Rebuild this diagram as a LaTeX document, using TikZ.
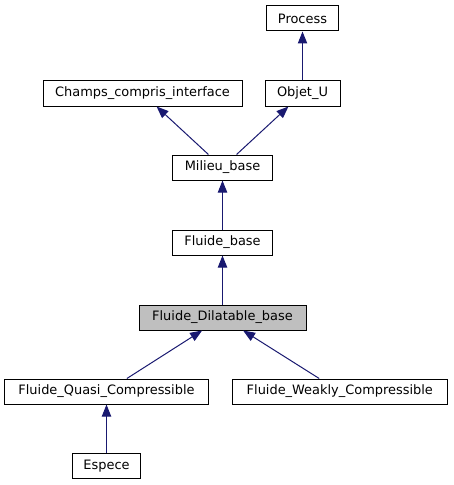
\documentclass[tikz,border=0pt]{standalone}
\usepackage{fontspec}
\setmainfont{DejaVu Sans}
\usetikzlibrary{arrows.meta}
\tikzset{>={Triangle[length=9pt,width=7pt]}}
\definecolor{edgeblue}{HTML}{191970}
\definecolor{gr2}{gray}{.75}
\tikzset{cls/.style={draw, line width=.75pt, minimum height=18.75pt, inner sep=0pt,
  font=\fontsize{9.7}{11}\selectfont}}
\tikzset{inh/.style={edgeblue, line width=.75pt, ->}}

\begin{document}
\begin{tikzpicture}[x=.75pt, y=-.75pt]
    \useasboundingbox (0, 0) rectangle (453, 485);
    \node[cls, minimum width=54pt](process) at (302.5, 18.5) {Process};
    \node[cls, minimum width=149.25pt](champs) at (142.5, 93.5) {Champs\_compris\_interface};
    \node[cls, minimum width=56.25pt](objet) at (302.5, 93.5) {Objet\_U};
    \node[cls, minimum width=75pt](milieu) at (222.5, 167.5) {Milieu\_base};
    \node[cls, minimum width=75pt](fluide) at (222.5, 242.5) {Fluide\_base};
    \node[cls, minimum width=125.25pt, fill=gr2](dilatable) at (222.5, 317.5) {Fluide\_Dilatable\_base};
    \node[cls, minimum width=153pt](quasi) at (106.5, 391.5) {Fluide\_Quasi\_Compressible};
    \node[cls, minimum width=161.25pt](weakly) at (339.8, 391.5) {Fluide\_Weakly\_Compressible};
    \node[cls, minimum width=51pt](espece) at (106.5, 466) {Espece};
    \draw[inh](objet)--(process);
    \draw[inh](milieu)--(champs);
    \draw[inh](milieu)--(objet);
    \draw[inh](fluide)--(milieu);
    \draw[inh](dilatable)--(fluide);
    \draw[inh](quasi)--(dilatable);
    \draw[inh](weakly)--(dilatable);
    \draw[inh](espece)--(quasi);
\end{tikzpicture}
\end{document}
